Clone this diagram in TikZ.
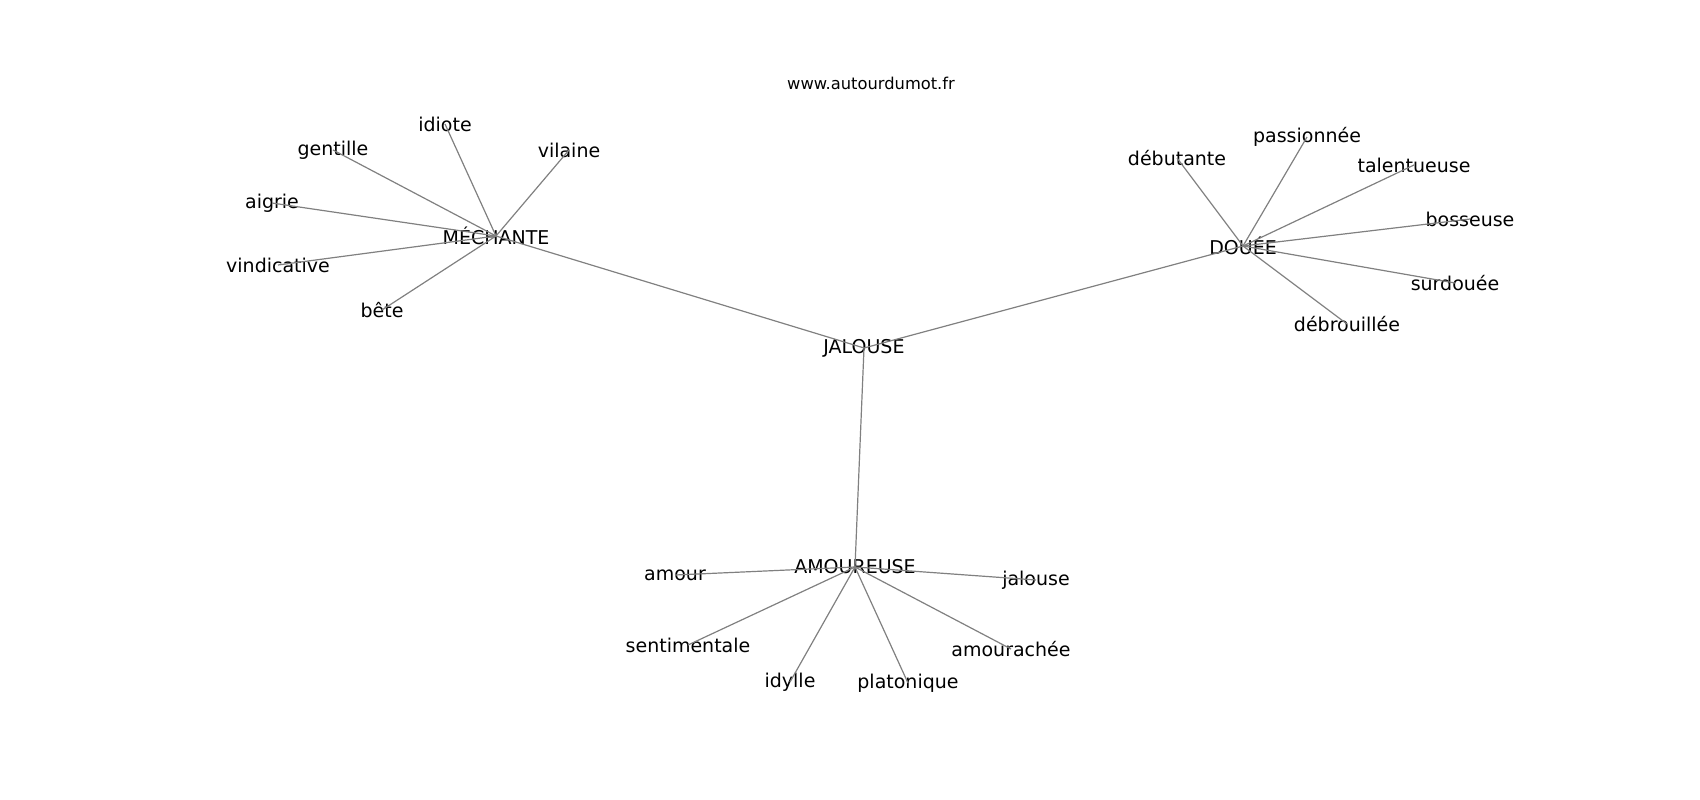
\documentclass[tikz,border=0pt]{standalone}
\usepackage{fontspec}
\setmainfont{DejaVu Sans}
\begin{document}
\begin{tikzpicture}[x=1pt,y=-1pt,
  word/.style={inner sep=0pt, font=\fontsize{19}{19}\selectfont},
  edge/.style={draw=gray, line width=1.2pt}]
\useasboundingbox (0,0) rectangle (1700,800);
\node[inner sep=0pt, font=\fontsize{16.3}{16}\selectfont] (url) at (871,83) {www.autourdumot.fr};
\node[word] (jal) at (864,348) {JALOUSE};
% MECHANTE group
\node[word] (mech) at (496,236) {MÉCHANTE};
\node[word] (idiote) at (445,124) {idiote};
\node[word] (gentille) at (333,150) {gentille};
\node[word] (vilaine) at (569,150) {vilaine};
\node[word] (aigrie) at (272,203) {aigrie};
\node[word] (vindic) at (278,265) {vindicative};
\node[word] (bete) at (382,310) {bête};
% DOUEE group
\node[word] (douee) at (1243,246) {DOUÉE};
\node[word] (debut) at (1177,158) {débutante};
\node[word] (passion) at (1307,137) {passionnée};
\node[word] (talent) at (1414,165) {talentueuse};
\node[word] (bosse) at (1470,219) {bosseuse};
\node[word] (surdou) at (1455,283) {surdouée};
\node[word] (debrou) at (1347,324) {débrouillée};
% AMOUREUSE group
\node[word] (amoureuse) at (855,567) {AMOUREUSE};
\node[word] (amour) at (675,575) {amour};
\node[word] (jalouse) at (1036,580) {jalouse};
\node[word] (senti) at (688,645) {sentimentale};
\node[word] (amourachee) at (1011,649) {amourachée};
\node[word] (idylle) at (790,682) {idylle};
\node[word] (plato) at (908,683) {platonique};
% edges
\foreach \a/\b in {jal/mech, jal/douee, jal/amoureuse,
  mech/idiote, mech/gentille, mech/vilaine, mech/aigrie, mech/vindic, mech/bete,
  douee/debut, douee/passion, douee/talent, douee/bosse, douee/surdou, douee/debrou,
  amoureuse/amour, amoureuse/jalouse, amoureuse/senti, amoureuse/amourachee, amoureuse/idylle, amoureuse/plato}
  \draw[edge] (\a.center) -- (\b.center);
\end{tikzpicture}
\end{document}
